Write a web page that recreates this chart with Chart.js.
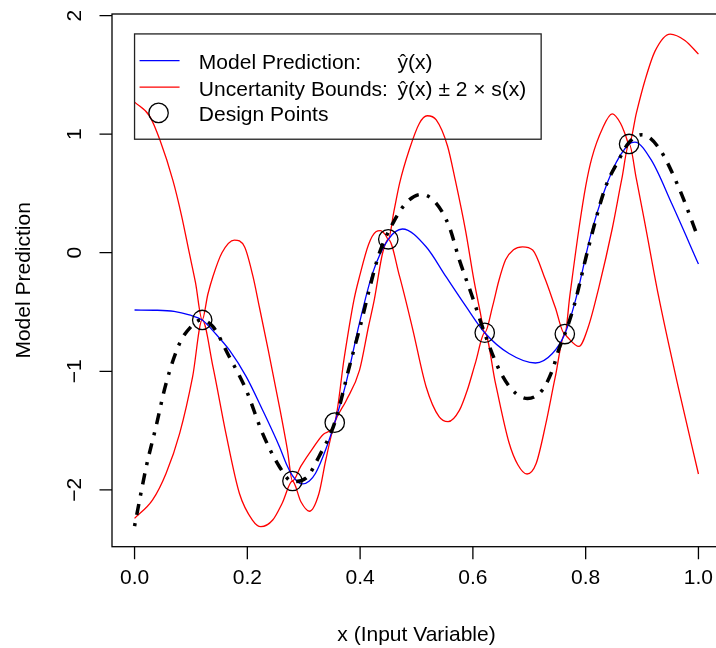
<!DOCTYPE html>
<html>
<head>
<meta charset="utf-8">
<script src="https://cdn.jsdelivr.net/npm/chart.js"></script>
<style>
  html, body { margin: 0; padding: 0; background: #fff; overflow: hidden; }
  #wrap { width: 716px; height: 648px; overflow: hidden; }
</style>
</head>
<body>
<div id="wrap"><canvas id="myChart" width="732" height="648"></canvas></div>
<script>
// model prediction y-hat(x)
var predX = [0, 0.04, 0.07, 0.097, 0.12, 0.145, 0.168, 0.198, 0.227, 0.257, 0.27, 0.28, 0.29, 0.298, 0.31, 0.321, 0.339, 0.355, 0.375, 0.399, 0.422, 0.45, 0.475, 0.517, 0.552, 0.588, 0.621, 0.664, 0.711, 0.741, 0.763, 0.782, 0.811, 0.847, 0.877, 0.887, 0.917, 0.953, 1.0];
var predY = [-0.483, -0.485, -0.495, -0.525, -0.567, -0.69, -0.82, -1.045, -1.326, -1.636, -1.79, -1.88, -1.935, -1.95, -1.925, -1.86, -1.66, -1.433, -1.10, -0.59, -0.174, 0.113, 0.20, 0.05, -0.20, -0.455, -0.675, -0.85, -0.93, -0.85, -0.686, -0.40, 0.186, 0.69, 0.917, 0.933, 0.776, 0.41, -0.095];

// upper bound y-hat + 2 s
var upperX = [0, 0.027, 0.045, 0.068, 0.083, 0.097, 0.108, 0.12, 0.13, 0.139, 0.155, 0.177, 0.195, 0.21, 0.221, 0.237, 0.257, 0.271, 0.28, 0.295, 0.316, 0.335, 0.355, 0.372, 0.389, 0.399, 0.415, 0.428, 0.436, 0.445, 0.45, 0.46, 0.47, 0.487, 0.505, 0.519, 0.535, 0.555, 0.569, 0.587, 0.602, 0.613, 0.621, 0.635, 0.646, 0.658, 0.672, 0.688, 0.706, 0.728, 0.746, 0.763, 0.772, 0.788, 0.80, 0.811, 0.830, 0.847, 0.862, 0.870, 0.877, 0.89, 0.905, 0.923, 0.95, 0.976, 1.0];
var upperY = [1.27, 1.15, 0.95, 0.61, 0.32, 0.0, -0.25, -0.567, -0.35, -0.2, 0.0, 0.107, 0.05, -0.2, -0.45, -0.82, -1.3, -1.66, -1.925, -1.80, -1.65, -1.53, -1.433, -0.88, -0.40, -0.20, 0.07, 0.177, 0.186, 0.15, 0.113, 0.35, 0.585, 0.866, 1.09, 1.155, 1.12, 0.90, 0.607, 0.186, -0.236, -0.5, -0.675, -0.45, -0.236, -0.06, 0.025, 0.05, 0.023, -0.22, -0.46, -0.686, -0.36, 0.20, 0.56, 0.80, 1.05, 1.17, 1.09, 1.0, 0.917, 1.18, 1.45, 1.70, 1.844, 1.79, 1.675];

// lower bound y-hat - 2 s
var lowerX = [0, 0.032, 0.056, 0.080, 0.103, 0.12, 0.139, 0.162, 0.186, 0.209, 0.224, 0.245, 0.262, 0.28, 0.295, 0.31, 0.327, 0.339, 0.355, 0.375, 0.399, 0.415, 0.425, 0.44, 0.45, 0.47, 0.493, 0.517, 0.54, 0.556, 0.576, 0.59, 0.605, 0.621, 0.64, 0.664, 0.68, 0.696, 0.712, 0.729, 0.746, 0.763, 0.767, 0.788, 0.805, 0.823, 0.847, 0.864, 0.877, 0.89, 0.905, 0.929, 0.965, 1.0];
var lowerY = [-2.24, -2.085, -1.86, -1.523, -1.045, -0.567, -0.96, -1.523, -2.03, -2.254, -2.31, -2.254, -2.11, -1.925, -2.1, -2.18, -2.03, -1.75, -1.433, -1.25, -0.99, -0.62, -0.40, 0.0, 0.113, -0.20, -0.64, -1.13, -1.383, -1.425, -1.33, -1.16, -0.92, -0.675, -1.10, -1.60, -1.79, -1.866, -1.78, -1.45, -1.05, -0.686, -0.708, -0.79, -0.62, -0.30, 0.20, 0.62, 0.917, 0.62, 0.25, -0.36, -1.15, -1.866];

// true function (dot-dash)
var trueX = [0, 0.021, 0.038, 0.056, 0.080, 0.100, 0.118, 0.139, 0.168, 0.198, 0.227, 0.257, 0.28, 0.304, 0.327, 0.355, 0.381, 0.404, 0.416, 0.434, 0.458, 0.481, 0.508, 0.535, 0.558, 0.576, 0.599, 0.623, 0.647, 0.670, 0.697, 0.723, 0.741, 0.752, 0.763, 0.779, 0.805, 0.835, 0.858, 0.877, 0.900, 0.929, 0.965, 1.0];
var trueY = [-2.305, -1.80, -1.467, -1.10, -0.764, -0.624, -0.567, -0.624, -0.877, -1.158, -1.523, -1.805, -1.93, -1.90, -1.72, -1.433, -0.96, -0.55, -0.315, -0.005, 0.248, 0.417, 0.492, 0.417, 0.22, -0.06, -0.371, -0.708, -0.99, -1.158, -1.23, -1.158, -0.99, -0.82, -0.686, -0.455, 0.045, 0.551, 0.776, 0.93, 0.995, 0.889, 0.551, 0.12];

// design points
var designX = [0.12, 0.28, 0.355, 0.45, 0.621, 0.763, 0.877];
var designY = [-0.567, -1.925, -1.433, 0.113, -0.675, -0.686, 0.917];

var xTicks = [0, 0.2, 0.4, 0.6, 0.8, 1.0];
var xTickLabels = ["0.0", "0.2", "0.4", "0.6", "0.8", "1.0"];
var yTicks = [-2, -1, 0, 1, 2];
var yTickLabels = ["\u22122", "\u22121", "0", "1", "2"];
var xTitle = "x (Input Variable)";
var yTitle = "Model Prediction";
var legendLabels = ["Model Prediction:", "Uncertanity Bounds:", "Design Points"];
var legendMath = ["\u0177(x)", "\u0177(x) \u00b1 2 \u00d7 s(x)", ""];
var legendAt = [0, 1.845];

var FONT = '"Liberation Sans", Arial, Helvetica, sans-serif';

function pts(xs, ys) {
  return xs.map(function (x, i) { return {x: x, y: ys[i]}; });
}

var rAxes = {
  id: 'rAxes',
  afterDraw: function (chart) {
    var ctx = chart.ctx, a = chart.chartArea;
    var sx = chart.scales.x, sy = chart.scales.y;
    ctx.save();
    ctx.strokeStyle = '#000';
    ctx.lineWidth = 1.3;
    ctx.strokeRect(a.left, a.top, a.right - a.left, a.bottom - a.top);

    ctx.beginPath();
    xTicks.forEach(function (v) {
      var px = sx.getPixelForValue(v);
      ctx.moveTo(px, a.bottom); ctx.lineTo(px, a.bottom + 12.5);
    });
    yTicks.forEach(function (v) {
      var py = sy.getPixelForValue(v);
      ctx.moveTo(a.left, py); ctx.lineTo(a.left - 12.5, py);
    });
    ctx.stroke();

    ctx.fillStyle = '#000';
    ctx.font = '21px ' + FONT;
    ctx.textAlign = 'center';
    ctx.textBaseline = 'middle';
    xTicks.forEach(function (v, i) {
      ctx.fillText(xTickLabels[i], sx.getPixelForValue(v), a.bottom + 32);
    });
    yTicks.forEach(function (v, i) {
      ctx.save();
      ctx.translate(a.left - 37, sy.getPixelForValue(v));
      ctx.rotate(-Math.PI / 2);
      ctx.fillText(yTickLabels[i], 0, 0);
      ctx.restore();
    });
    ctx.fillText(xTitle, (a.left + a.right) / 2, a.bottom + 89);
    ctx.save();
    ctx.translate(a.left - 88, (a.top + a.bottom) / 2);
    ctx.rotate(-Math.PI / 2);
    ctx.fillText(yTitle, 0, 0);
    ctx.restore();

    // legend (transparent, like R)
    var bx = sx.getPixelForValue(legendAt[0]);
    var by = sy.getPixelForValue(legendAt[1]);
    var bw = 406.6, bh = 105.3;
    ctx.lineWidth = 1.3;
    ctx.strokeStyle = '#222';
    ctx.strokeRect(bx, by, bw, bh);
    var rows = [26.7, 53.3, 79];
    ctx.strokeStyle = 'blue';
    ctx.beginPath(); ctx.moveTo(bx + 5, by + rows[0]); ctx.lineTo(bx + 45, by + rows[0]); ctx.stroke();
    ctx.strokeStyle = 'red';
    ctx.beginPath(); ctx.moveTo(bx + 5, by + rows[1]); ctx.lineTo(bx + 45, by + rows[1]); ctx.stroke();
    ctx.strokeStyle = '#000';
    ctx.beginPath(); ctx.arc(bx + 24, by + rows[2], 9.7, 0, Math.PI * 2); ctx.stroke();
    ctx.textAlign = 'left';
    ctx.textBaseline = 'alphabetic';
    legendLabels.forEach(function (t, i) {
      ctx.fillText(t, bx + 64.3, by + rows[i] + 8.3);
      if (legendMath[i]) ctx.fillText(legendMath[i], bx + 263, by + rows[i] + 8.3);
    });
    ctx.restore();
  }
};

new Chart("myChart", {
  type: "scatter",
  data: {
    datasets: [{
      data: pts(designX, designY),
      showLine: false,
      pointStyle: 'circle',
      pointRadius: 9.7,
      pointBorderWidth: 1.3,
      pointBorderColor: '#000',
      pointBackgroundColor: 'rgba(0,0,0,0)',
      order: 0
    }, {
      data: pts(trueX, trueY),
      showLine: true,
      borderColor: '#000',
      borderWidth: 3.5,
      borderDash: [3, 8.5, 11, 8.5],
      pointRadius: 0,
      cubicInterpolationMode: 'monotone',
      order: 1
    }, {
      data: pts(predX, predY),
      showLine: true,
      borderColor: 'blue',
      borderWidth: 1.3,
      pointRadius: 0,
      cubicInterpolationMode: 'monotone',
      order: 2
    }, {
      data: pts(upperX, upperY),
      showLine: true,
      borderColor: 'red',
      borderWidth: 1.3,
      pointRadius: 0,
      cubicInterpolationMode: 'monotone',
      order: 3
    }, {
      data: pts(lowerX, lowerY),
      showLine: true,
      borderColor: 'red',
      borderWidth: 1.3,
      pointRadius: 0,
      cubicInterpolationMode: 'monotone',
      order: 4
    }]
  },
  options: {
    responsive: false,
    animation: false,
    devicePixelRatio: 1,
    events: [],
    layout: {padding: {left: 112, top: 14, right: 9.7, bottom: 101.3}},
    plugins: {legend: {display: false}, tooltip: {enabled: false}},
    scales: {
      x: {type: 'linear', min: -0.04, max: 1.04, display: false},
      y: {type: 'linear', min: -2.479, max: 2.013, display: false}
    }
  },
  plugins: [rAxes]
});
</script>
</body>
</html>
